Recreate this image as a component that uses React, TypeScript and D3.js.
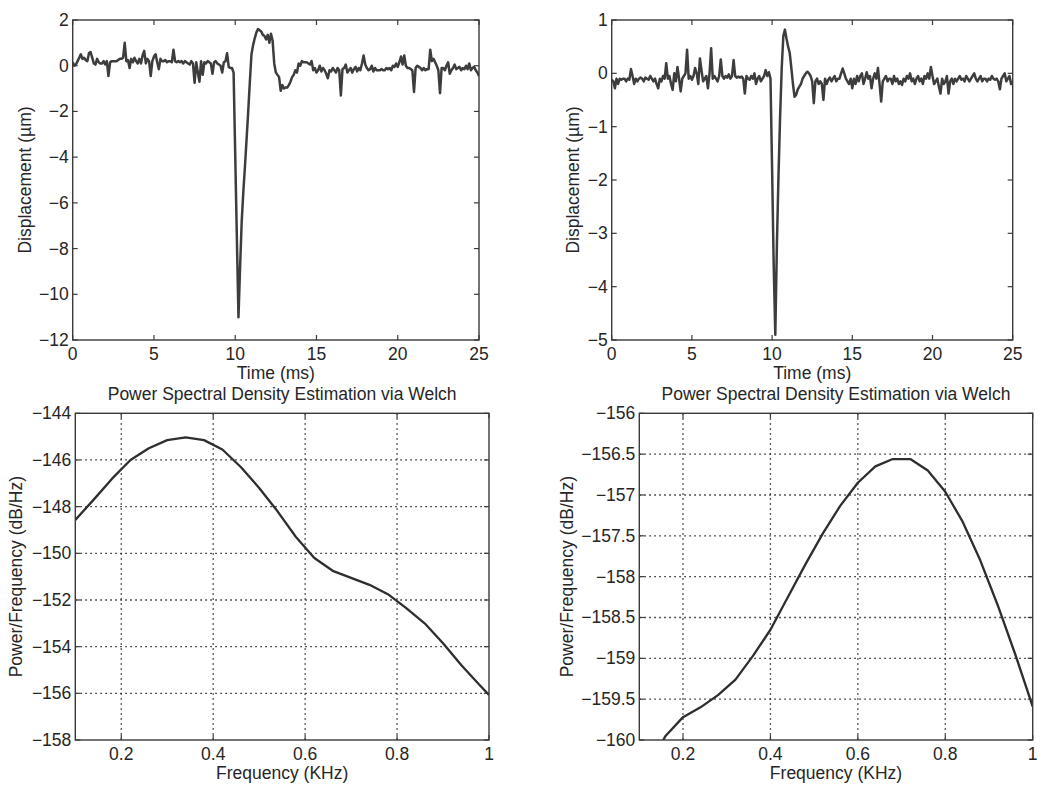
import React from "react";
import * as d3 from "d3";

// ---------- DATA ----------
const timeStep = 0.1; // ms
const dispA: number[] = [
  0.15, 0.0, 0.05, 0.2, 0.35, 0.5, 0.3, 0.35, 0.25, 0.2,
  0.55, 0.6, 0.35, 0.1, 0.05, 0.3, 0.15, 0.1, 0.1, 0.2,
  0.05, 0.2, -0.45, 0.15, 0.2, 0.2, 0.2, 0.2, 0.25, 0.3,
  0.3, 0.35, 1.0, 0.2, 0.25, -0.1, 0.3, 0.15, 0.35, 0.2,
  0.1, 0.3, 0.1, 0.45, 0.65, 0.1, 0.3, 0.2, -0.45, 0.2,
  0.4, 0.5, 0.15, -0.15, 0.3, 0.2, 0.2, 0.25, 0.15, 0.2,
  0.2, 0.15, 0.7, 0.2, 0.15, 0.2, 0.15, 0.2, 0.1, 0.2,
  0.15, 0.1, 0.05, 0.2, 0.1, -0.75, 0.15, -0.3, -0.7, 0.2,
  -0.4, 0.15, 0.1, 0.2, 0.15, 0.1, -0.35, 0.15, 0.2, 0.1,
  0.05, 0.0, -0.3, 0.15, 0.2, 0.55, -0.05, -0.1, -0.1, -0.3,
  -3.9, -7.5, -11.0, -8.8, -6.8, -5.5, -4.4, -3.2, -2.0, -0.7,
  0.5, 0.9, 1.2, 1.45, 1.6, 1.55, 1.5, 1.35, 1.3, 1.15,
  1.35, 1.0, 1.4, 1.1, 0.1, -0.3, -0.4, -0.5, -1.1, -0.85,
  -1.0, -0.95, -0.95, -0.85, -0.7, -0.5, -0.4, -0.2, -0.3, 0.1,
  0.0, 0.2, 0.15, 0.15, 0.15, 0.1, 0.05, 0.2, -0.2, -0.1,
  -0.3, -0.2, 0.0, -0.25, -0.1, -0.2, -0.35, -0.55, -0.2, -0.25,
  -0.1, -0.2, -0.3, -0.1, -0.2, -1.3, -0.15, -0.1, 0.05, -0.3,
  -0.2, -0.1, -0.3, -0.15, -0.05, -0.25, -0.1, -0.2, 0.1, 0.45,
  0.05, -0.1, -0.2, -0.15, 0.0, -0.25, -0.1, -0.2, -0.2, -0.2,
  -0.15, -0.2, -0.2, -0.1, -0.15, -0.1, -0.2, 0.0, -0.05, 0.1,
  -0.05, 0.15, 0.4, 0.05, 0.45, 0.0, -0.1, -0.1, -0.15, -0.2,
  -1.15, -0.1, 0.0, -0.05, -0.1, -0.2, -0.1, -0.2, -0.15, -0.15,
  0.7, 0.2, 0.3, 0.15, 0.0, -0.2, -1.2, -0.1, -0.1, -0.2,
  0.0, 0.15, -0.35, -0.2, -0.1, 0.05, -0.15, -0.1, -0.05, -0.2,
  -0.1, -0.15, 0.0, -0.15, 0.1, -0.2, -0.1, -0.05, -0.2, -0.3,
  -0.45,
];
const dispB: number[] = [
  -0.12, -0.15, -0.28, -0.1, -0.2, -0.1, -0.12, -0.1, -0.1, -0.15,
  -0.1, -0.12, 0.08, -0.05, -0.2, -0.1, -0.15, -0.1, -0.08, -0.1,
  -0.15, -0.08, -0.1, -0.12, -0.05, -0.1, -0.15, -0.1, -0.2, -0.28,
  -0.1, -0.15, -0.05, -0.1, 0.19, -0.1, -0.05, -0.2, -0.31, 0.0,
  -0.15, 0.12, -0.1, -0.34, -0.1, -0.05, 0.0, 0.44, -0.1, -0.05,
  -0.12, -0.05, 0.1, 0.0, -0.2, 0.28, 0.05, -0.15, -0.1, -0.05,
  -0.28, 0.0, 0.47, -0.1, -0.05, -0.1, -0.15, -0.05, 0.26, -0.05,
  -0.1, -0.05, -0.08, -0.02, -0.1, -0.05, 0.25, -0.05, -0.08, -0.06,
  -0.08, -0.06, -0.1, -0.38, -0.05, -0.1, -0.12, -0.05, -0.1, 0.0,
  -0.2, -0.1, -0.05, -0.15, -0.1, -0.05, 0.06, -0.05, 0.02, -0.1,
  -1.8, -3.6, -4.9, -3.2, -1.9, -0.8, 0.1, 0.7, 0.82, 0.65,
  0.5, 0.38, 0.1, -0.2, -0.44, -0.4, -0.3, -0.25, -0.2, -0.1,
  -0.05, 0.0, 0.03, 0.0, -0.05, -0.15, -0.56, -0.15, -0.1, -0.2,
  -0.15, -0.2, -0.5, -0.1, -0.2, -0.12, -0.08, -0.15, -0.1, -0.05,
  -0.15, -0.1, -0.1, 0.0, 0.09, 0.0, -0.1, -0.15, -0.2, -0.1,
  -0.28, -0.1, -0.2, -0.05, -0.15, -0.05, 0.0, -0.2, -0.1, 0.02,
  -0.1, -0.05, -0.28, -0.1, 0.0, -0.1, 0.1, -0.2, -0.53, -0.15,
  -0.1, -0.05, -0.15, -0.1, -0.1, -0.2, -0.05, -0.15, -0.1, -0.2,
  -0.15, -0.22, -0.1, -0.15, -0.05, -0.1, 0.0, -0.15, -0.1, -0.2,
  -0.1, -0.05, -0.15, -0.1, -0.2, -0.05, -0.1, 0.0, -0.1, 0.12,
  -0.05, -0.2, -0.15, -0.1, -0.25, -0.38, -0.1, -0.2, -0.15, -0.05,
  -0.38, -0.15, -0.1, -0.2, -0.1, -0.15, -0.1, -0.05, -0.12, -0.1,
  -0.15, -0.05, -0.1, -0.15, -0.1, -0.05, 0.0, -0.1, -0.15, -0.1,
  -0.05, -0.15, -0.1, -0.1, -0.15, -0.1, -0.12, -0.05, -0.1, -0.12,
  -0.1, -0.15, -0.3, -0.1, -0.05, 0.0, -0.15, -0.1, -0.05, -0.2,
  -0.15,
];
const freqA: number[] = [0.1, 0.14, 0.18, 0.22, 0.26, 0.3, 0.34, 0.38, 0.42, 0.46, 0.5, 0.54, 0.58, 0.62, 0.66, 0.7, 0.74, 0.78, 0.82, 0.86, 0.9, 0.94, 0.98, 1.0];
const psdA: number[] = [-148.57, -147.7, -146.8, -146.0, -145.5, -145.15, -145.03, -145.15, -145.55, -146.3, -147.2, -148.2, -149.3, -150.2, -150.75, -151.05, -151.35, -151.75, -152.35, -153.0, -153.85, -154.8, -155.65, -156.07];
const freqB: number[] = [0.12, 0.16, 0.2, 0.24, 0.28, 0.32, 0.36, 0.4, 0.44, 0.48, 0.52, 0.56, 0.6, 0.64, 0.68, 0.72, 0.76, 0.8, 0.84, 0.88, 0.92, 0.96, 1.0];
const psdB: number[] = [-160.35, -159.95, -159.72, -159.6, -159.45, -159.26, -158.97, -158.65, -158.25, -157.85, -157.47, -157.13, -156.85, -156.65, -156.56, -156.56, -156.7, -156.96, -157.33, -157.8, -158.35, -158.95, -159.59];

const timeTicks = [0, 5, 10, 15, 20, 25];
const dispATicks = [2, 0, -2, -4, -6, -8, -10, -12];
const dispBTicks = [1, 0, -1, -2, -3, -4, -5];
const freqTicks = [0.2, 0.4, 0.6, 0.8, 1];
const psdATicks = [-144, -146, -148, -150, -152, -154, -156, -158];
const psdBTicks = [-156, -156.5, -157, -157.5, -158, -158.5, -159, -159.5, -160];

const titleText = "Power Spectral Density Estimation via Welch";
const FONT = "'Liberation Sans', Arial, Helvetica, sans-serif";
const MINUS = "\u2212";
const fmt = (v: number) => (v < 0 ? MINUS + String(Math.abs(v)) : String(v));

type PanelProps = {
  id: string;
  left: number; right: number; top: number; bottom: number;
  xs: number[]; ys: number[];
  xDomain: [number, number]; yDomain: [number, number];
  xTicks: number[]; yTicks: number[];
  xLabel: string; yLabel: string; yLabelX: number;
  grid: boolean; title?: string;
  lineColor: string; lineWidth: number;
};

function Panel(p: PanelProps) {
  const x = d3.scaleLinear().domain(p.xDomain).range([p.left, p.right]);
  const y = d3.scaleLinear().domain(p.yDomain).range([p.bottom, p.top]);
  const pts: [number, number][] = p.xs.map((xv, i) => [xv, p.ys[i]]);
  const line = d3.line<[number, number]>().x((d) => x(d[0])).y((d) => y(d[1]));
  const tl = 5;
  const axisColor = "#3a3a3a";
  return (
    <g>
      <defs>
        <clipPath id={p.id}>
          <rect x={p.left} y={p.top} width={p.right - p.left} height={p.bottom - p.top} />
        </clipPath>
      </defs>
      {p.grid && (
        <g stroke="#222" strokeWidth={1.3} strokeDasharray="1.5,3.5">
          {p.xTicks.filter((t) => x(t) < p.right - 1).map((t) => (
            <line key={"gx" + t} x1={x(t)} x2={x(t)} y1={p.top} y2={p.bottom} />
          ))}
          {p.yTicks.filter((t) => y(t) > p.top + 1 && y(t) < p.bottom - 1).map((t) => (
            <line key={"gy" + t} x1={p.left} x2={p.right} y1={y(t)} y2={y(t)} />
          ))}
        </g>
      )}
      <path d={line(pts) || ""} fill="none" stroke={p.lineColor} strokeWidth={p.lineWidth} strokeLinejoin="round" clipPath={`url(#${p.id})`} />
      <rect x={p.left} y={p.top} width={p.right - p.left} height={p.bottom - p.top} fill="none" stroke={axisColor} strokeWidth={1.4} />
      <g stroke={axisColor} strokeWidth={1.2}>
        {p.xTicks.map((t) => (
          <g key={"tx" + t}>
            <line x1={x(t)} x2={x(t)} y1={p.bottom} y2={p.bottom - tl} />
            <line x1={x(t)} x2={x(t)} y1={p.top} y2={p.top + tl} />
          </g>
        ))}
        {p.yTicks.map((t) => (
          <g key={"ty" + t}>
            <line x1={p.left} x2={p.left + tl} y1={y(t)} y2={y(t)} />
            <line x1={p.right} x2={p.right - tl} y1={y(t)} y2={y(t)} />
          </g>
        ))}
      </g>
      <g fontFamily={FONT} fontSize={17.5} fill="#262626">
        {p.xTicks.map((t) => (
          <text key={"lx" + t} x={x(t)} y={p.bottom + 14} textAnchor="middle" dominantBaseline="central">{fmt(t)}</text>
        ))}
        {p.yTicks.map((t) => (
          <text key={"ly" + t} x={p.left - 4} y={y(t)} textAnchor="end" dominantBaseline="central">{fmt(t)}</text>
        ))}
        <text x={(p.left + p.right) / 2} y={p.bottom + 33} textAnchor="middle" dominantBaseline="central">{p.xLabel}</text>
        <text transform={`translate(${p.yLabelX},${(p.top + p.bottom) / 2}) rotate(-90)`} textAnchor="middle" dominantBaseline="central">{p.yLabel}</text>
        {p.title && (
          <text x={(p.left + p.right) / 2} y={p.top - 19.5} textAnchor="middle" dominantBaseline="central">{p.title}</text>
        )}
      </g>
    </g>
  );
}

export default function App() {
  const times = dispA.map((_, i) => +(i * timeStep).toFixed(2));
  const timesB = dispB.map((_, i) => +(i * timeStep).toFixed(2));
  return (
    <svg width={1050} height={796} style={{ position: "absolute", left: 0, top: 0, background: "#fff" }}>
      <rect width={1050} height={796} fill="#fff" />
      <Panel id="c1" left={72.7} right={479} top={20} bottom={340}
        xs={times} ys={dispA} xDomain={[0, 25]} yDomain={[-12, 2]}
        xTicks={timeTicks} yTicks={dispATicks}
        xLabel="Time (ms)" yLabel="Displacement (µm)" yLabelX={25}
        grid={false} lineColor="#3d3d3d" lineWidth={2.5} />
      <Panel id="c2" left={611.7} right={1012.7} top={20} bottom={340}
        xs={timesB} ys={dispB} xDomain={[0, 25]} yDomain={[-5, 1]}
        xTicks={timeTicks} yTicks={dispBTicks}
        xLabel="Time (ms)" yLabel="Displacement (µm)" yLabelX={573}
        grid={false} lineColor="#3d3d3d" lineWidth={2.5} />
      <Panel id="c3" left={75.3} right={489} top={413.3} bottom={740}
        xs={freqA} ys={psdA} xDomain={[0.1, 1]} yDomain={[-158, -144]}
        xTicks={freqTicks} yTicks={psdATicks}
        xLabel="Frequency (KHz)" yLabel="Power/Frequency (dB/Hz)" yLabelX={16}
        grid={true} title={titleText} lineColor="#2e2e2e" lineWidth={2.3} />
      <Panel id="c4" left={639.3} right={1032.7} top={413.3} bottom={740}
        xs={freqB} ys={psdB} xDomain={[0.1, 1]} yDomain={[-160, -156]}
        xTicks={freqTicks} yTicks={psdBTicks}
        xLabel="Frequency (KHz)" yLabel="Power/Frequency (dB/Hz)" yLabelX={567}
        grid={true} title={titleText} lineColor="#2e2e2e" lineWidth={2.3} />
    </svg>
  );
}
